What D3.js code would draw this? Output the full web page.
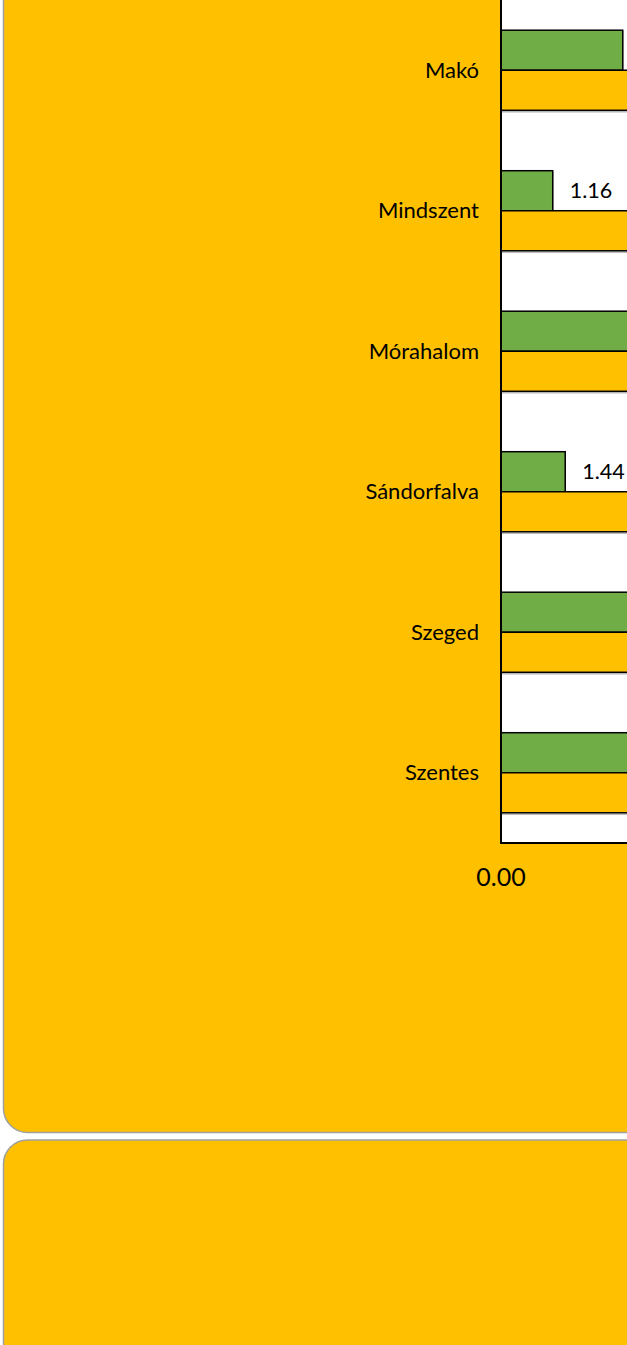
<!DOCTYPE html>
<html><head><meta charset="utf-8">
<script src="https://cdn.jsdelivr.net/npm/d3@7"></script>
<style>body{margin:0;background:#fff}svg{display:block}</style>
</head><body>
<svg id="c" width="627" height="1345"></svg>
<script>
const categories = ["Makó","Mindszent","Mórahalom","Sándorfalva","Szeged","Szentes"];
const seriesGreen = [2.73, 1.16, 3.9, 1.44, 4.6, 3.3];
const seriesYellow = [6.5, 5.8, 7.0, 6.2, 7.5, 6.8];
const xTicks = [0, 5, 10, 15];

const W = 627;
const svg = d3.select("#c");
const FONT = "Lato, 'Noto Sans', sans-serif";
const YEL = "#FFC000", GRN = "#70AD47";

// panels
svg.append("rect").attr("x",3.5).attr("y",-40).attr("width",700).attr("height",1172.5)
  .attr("rx",24).attr("fill",YEL).attr("stroke","#a0a0a0").attr("stroke-width",1.5);
svg.append("rect").attr("x",3.5).attr("y",1140).attr("width",700).attr("height",300)
  .attr("rx",24).attr("fill",YEL).attr("stroke","#a0a0a0").attr("stroke-width",1.5);

const x = d3.scaleLinear().domain([0,10]).range([501, 947]);
const y = d3.scaleBand().domain(categories).range([0, 843]).paddingInner(0.43).paddingOuter(0.215);
const sub = d3.scaleBand().domain(["g","y"]).range([0, y.bandwidth()]);

// plot area
svg.append("rect").attr("x",x(0)).attr("y",-10).attr("width",300).attr("height",853).attr("fill","#fff");

const rows = categories.map((c,i)=>({c, g:seriesGreen[i], yv:seriesYellow[i]}));
const bars = [];
rows.forEach(r=>{ bars.push({c:r.c,k:"g",v:r.g,col:GRN}); bars.push({c:r.c,k:"y",v:r.yv,col:YEL}); });

// shadows
svg.append("g").selectAll("rect").data(bars).join("rect")
  .attr("x",x(0)).attr("y",d=>y(d.c)+sub(d.k)+1.5)
  .attr("width",d=>x(d.v)-x(0)).attr("height",sub.bandwidth())
  .attr("fill","none").attr("stroke","#bbb").attr("stroke-width",1.5);
svg.append("g").selectAll("rect").data(bars).join("rect")
  .attr("x",x(0)).attr("y",d=>y(d.c)+sub(d.k))
  .attr("width",d=>x(d.v)-x(0)).attr("height",sub.bandwidth())
  .attr("fill",d=>d.col).attr("stroke","#000").attr("stroke-width",1.5);

// data labels (only those that fall inside the visible frame)
svg.append("g").selectAll("text").data(bars.filter(d=>x(d.v)+17+36 <= W)).join("text")
  .attr("x",d=>x(d.v)+17).attr("y",d=>y(d.c)+sub(d.k)+sub.bandwidth()/2+7.5)
  .attr("font-family",FONT).attr("font-size",21.5).attr("fill","#000")
  .text(d=>d.v.toFixed(2));

// axes lines
svg.append("line").attr("x1",x(0)).attr("x2",x(0)).attr("y1",-10).attr("y2",844)
  .attr("stroke","#000").attr("stroke-width",2);
svg.append("line").attr("x1",x(0)).attr("x2",900).attr("y1",843).attr("y2",843)
  .attr("stroke","#000").attr("stroke-width",2);

// category labels
svg.append("g").selectAll("text").data(categories).join("text")
  .attr("x",479).attr("y",d=>y(d)+y.bandwidth()/2+7.5)
  .attr("text-anchor","end").attr("font-family",FONT).attr("font-size",22).attr("fill","#000")
  .text(d=>d);

// x tick labels
svg.append("g").selectAll("text").data(xTicks.filter(t=>x(t)+30 <= W)).join("text")
  .attr("x",d=>x(d)).attr("y",886).attr("text-anchor","middle")
  .attr("font-family",FONT).attr("font-size",25).attr("fill","#000")
  .text(d=>d.toFixed(2));
</script>
</body></html>
